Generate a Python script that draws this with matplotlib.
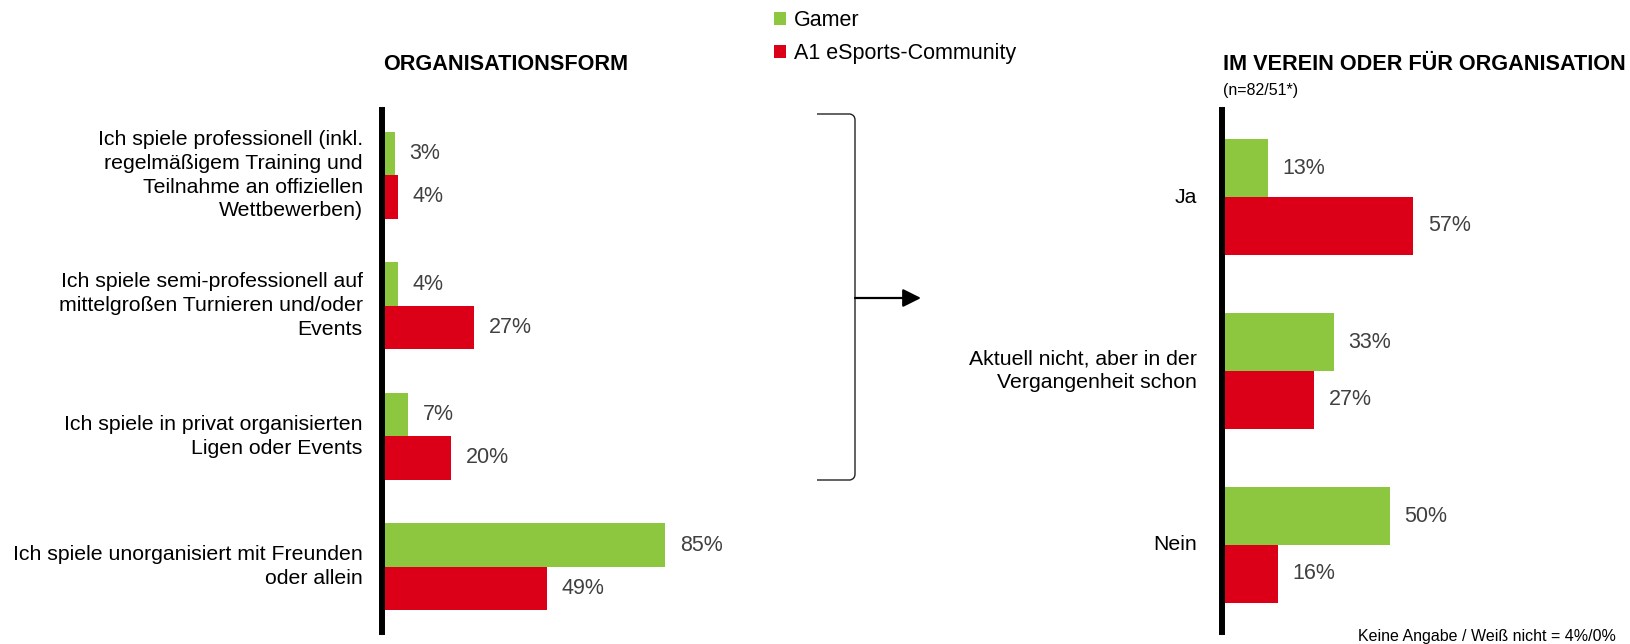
import matplotlib
matplotlib.use("Agg")
import matplotlib.pyplot as plt
from matplotlib.path import Path
from matplotlib.patches import PathPatch, FancyArrowPatch

plt.rcParams["font.family"] = ["Liberation Sans", "DejaVu Sans"]

GREEN = "#8dc63f"
RED = "#db0017"
VALUE_GREY = "#404040"

series_names = ["Gamer", "A1 eSports-Community"]

form_labels = [
    "Ich spiele professionell (inkl.\nregelmäßigem Training und\nTeilnahme an offiziellen\nWettbewerben)",
    "Ich spiele semi-professionell auf\nmittelgroßen Turnieren und/oder\nEvents",
    "Ich spiele in privat organisierten\nLigen oder Events",
    "Ich spiele unorganisiert mit Freunden\noder allein",
]
form_gamer = [3, 4, 7, 85]
form_community = [4, 27, 20, 49]

club_labels = ["Ja", "Aktuell nicht, aber in der\nVergangenheit schon", "Nein"]
club_gamer = [13, 33, 50]
club_community = [57, 27, 16]

W, H = 1631, 644
fig = plt.figure(figsize=(W / 100, H / 100), dpi=100)


def box(left, top, width, height):
    return [left / W, 1 - (top + height) / H, width / W, height / H]


def to_fig(x, y):
    return (x / W, 1 - y / H)


def draw_panel(ax, labels, gamer, community, label_gap):
    n = len(labels)
    pos = list(range(n))
    bh = 0.333
    ax.barh([p - bh / 2 for p in pos], gamer, height=bh, color=GREEN,
            label=series_names[0])
    ax.barh([p + bh / 2 for p in pos], community, height=bh, color=RED,
            label=series_names[1])
    ax.set_xlim(0, 100)
    ax.set_ylim(n - 0.5, -0.5)
    for s in ["top", "right", "bottom"]:
        ax.spines[s].set_visible(False)
    ax.spines["left"].set_linewidth(4.3)
    ax.spines["left"].set_color("black")
    ax.spines["left"].set_position(("outward", 2.2))
    ax.set_xticks([])
    ax.set_yticks([])

    for p, g, c in zip(pos, gamer, community):
        for v, y in [(g, p - bh / 2), (c, p + bh / 2)]:
            ax.annotate(f"{v}%", xy=(v, y), xytext=(10.5, 0),
                        textcoords="offset points", va="center", ha="left",
                        fontsize=15.5, color=VALUE_GREY)

    for p, lab in zip(pos, labels):
        ax.annotate(lab, xy=(0, p), xycoords=("axes fraction", "data"),
                    xytext=(-label_gap, 0), textcoords="offset points",
                    ha="right", va="center", fontsize=15.3, color="black",
                    linespacing=1.32, annotation_clip=False)


ax1 = fig.add_axes(box(385, 110, 330, 522))
draw_panel(ax1, form_labels, form_gamer, form_community, 16)

ax2 = fig.add_axes(box(1225, 110, 330, 522))
draw_panel(ax2, club_labels, club_gamer, club_community, 20)

# panel titles
title_font = dict(fontsize=15.6, fontweight="bold")
fig.text(*to_fig(383, 64), "ORGANISATIONSFORM", va="center", ha="left", **title_font)
fig.text(*to_fig(1223, 64), "IM VEREIN ODER FÜR ORGANISATION", va="center",
         ha="left", **title_font)
fig.text(*to_fig(1223, 90), "(n=82/51*)", va="center", ha="left", fontsize=11.5)

fig.text(*to_fig(1616, 636), "Keine Angabe / Weiß nicht = 4%/0%", va="center",
         ha="right", fontsize=11.5)

# legend at top centre
handles, names = ax1.get_legend_handles_labels()
fig.legend(handles, names, loc="upper left", bbox_to_anchor=to_fig(774, 10),
           frameon=False, fontsize=15.5, handlelength=0.56, handleheight=0.55,
           handletextpad=0.37, labelspacing=0.55, borderpad=0, borderaxespad=0)

# bracket with arrow between the panels
verts = [to_fig(817, 114), to_fig(850, 114), to_fig(855, 115), to_fig(855, 120),
         to_fig(855, 474), to_fig(855, 479), to_fig(850, 480), to_fig(817, 480)]
codes = [Path.MOVETO, Path.LINETO, Path.CURVE3, Path.CURVE3,
         Path.LINETO, Path.CURVE3, Path.CURVE3, Path.LINETO]
fig.add_artist(PathPatch(Path(verts, codes), transform=fig.transFigure,
                         fill=False, edgecolor="#222222", linewidth=1.0))
fig.add_artist(FancyArrowPatch(to_fig(855, 298), to_fig(921, 298),
                               transform=fig.transFigure,
                               arrowstyle="-|>,head_length=1.0,head_width=0.5",
                               mutation_scale=11, color="black", linewidth=1.6,
                               shrinkA=0, shrinkB=0))

fig.savefig("out.png", dpi=100)
